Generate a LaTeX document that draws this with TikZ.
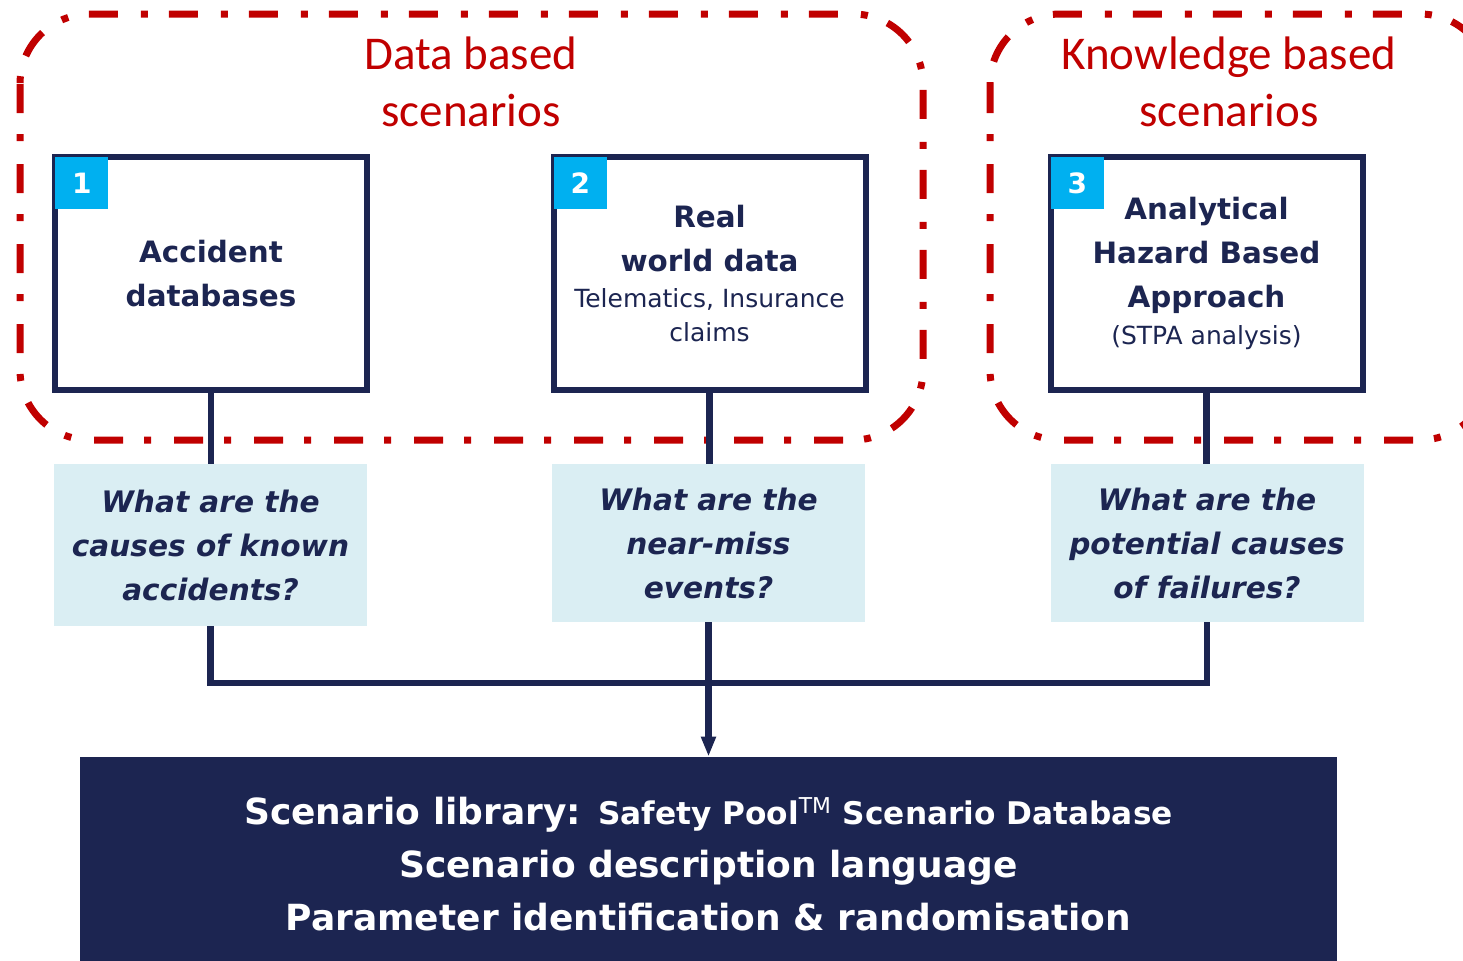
\documentclass[tikz,border=0pt]{standalone}
\usepackage{fontspec}
\setmainfont{DejaVu Sans}
\newfontfamily\calfont{Carlito}
\usetikzlibrary{arrows.meta, positioning, calc}
\definecolor{scnavy}{HTML}{1C2551}
\definecolor{scred}{HTML}{C00000}
\definecolor{sccyan}{HTML}{00B0F0}
\definecolor{scpale}{HTML}{DAEEF3}
\newcommand{\subline}{\mdseries\fontsize{12.5}{17}\selectfont}

\begin{document}
\begin{tikzpicture}[
  x=0.5pt, y=-0.5pt,
  every node/.style={text=scnavy},
  source/.style={rectangle, draw=scnavy, line width=3pt, fill=white, minimum width=156pt, minimum height=116.5pt, inner sep=0pt, align=center, font=\bfseries\fontsize{14.7}{22}\selectfont},
  tag/.style={rectangle, fill=sccyan, text=white, minimum width=26.5pt, minimum height=26pt, inner sep=0pt, anchor=north west, font=\bfseries\fontsize{14}{14}\selectfont},
  question/.style={rectangle, fill=scpale, minimum width=156.5pt, inner sep=0pt, align=center, font=\bfseries\itshape\fontsize{14.8}{22}\selectfont},
  library/.style={rectangle, fill=scnavy, text=white, minimum width=628.5pt, minimum height=107pt, inner sep=0pt, align=center, font=\bfseries\fontsize{18}{26.5}\selectfont},
  group/.style={draw=scred, line width=3.5pt, rounded corners=35pt, dash pattern=on 14.5pt off 10.5pt on 3.5pt off 11.5pt},
  grouptitle/.style={align=center, text=scred, font=\calfont\fontsize{23.5}{28.5}\selectfont},
  link/.style={draw=scnavy, line width=3.2pt},
]
\useasboundingbox (0,0) rectangle (1463,960);
\clip (0,0) rectangle (1463,960);

% Scenario groups
\draw[group] (20,14) rectangle (923,440);
\draw[group] (990,14) rectangle (1490,440);
\node[grouptitle] (datattl) at (471,81.5) {Data based\\scenarios};
\node[grouptitle] (knowttl) at (1229,81.5) {Knowledge based\\scenarios};

% Sources
\node[source] (acc) at (211,273.5) {Accident\\databases};
\node[source] (real) at (709.5,273.5) {Real\\world data\\[-4pt]{\subline Telematics, Insurance}\\[-5pt]{\subline claims}};
\node[source] (stpa) at (1206.5,273.5) {Analytical\\Hazard Based\\Approach\\[-3.5pt]{\subline (STPA analysis)}};
\node[tag] (t1) at ([xshift=1.5pt,yshift=-1.5pt]acc.north west) {1};
\node[tag] (t2) at ([xshift=1.5pt,yshift=-1.5pt]real.north west) {2};
\node[tag] (t3) at ([xshift=1.5pt,yshift=-1.5pt]stpa.north west) {3};

% Questions
\node[question, minimum height=81pt] (q1) at (210.5,545) {What are the\\causes of known\\accidents?};
\node[question, minimum height=79pt] (q2) at (708.5,543) {What are the\\near-miss\\events?};
\node[question, minimum height=79pt] (q3) at (1207,543) {What are the\\potential causes\\of failures?};

% Library
\node[library] (lib) at (708.5,864) {Scenario library: {\fontsize{15.6}{15.6}\selectfont Safety Pool\textsuperscript{\mdseries TM} Scenario Database}\\Scenario description language\\Parameter identification \& randomisation};

% Links
\draw[link] (acc.south) -- (acc.south |- q1.north);
\draw[link] (real.south) -- (real.south |- q2.north);
\draw[link] (stpa.south) -- (stpa.south |- q3.north);
\coordinate (bus) at (708.5,683);
\draw[link] (q1.south) |- (bus) -| (q3.south);
\draw[link, -{Triangle[width=7pt, length=10pt]}] (q2.south) -- (lib.north);
\end{tikzpicture}
\end{document}
